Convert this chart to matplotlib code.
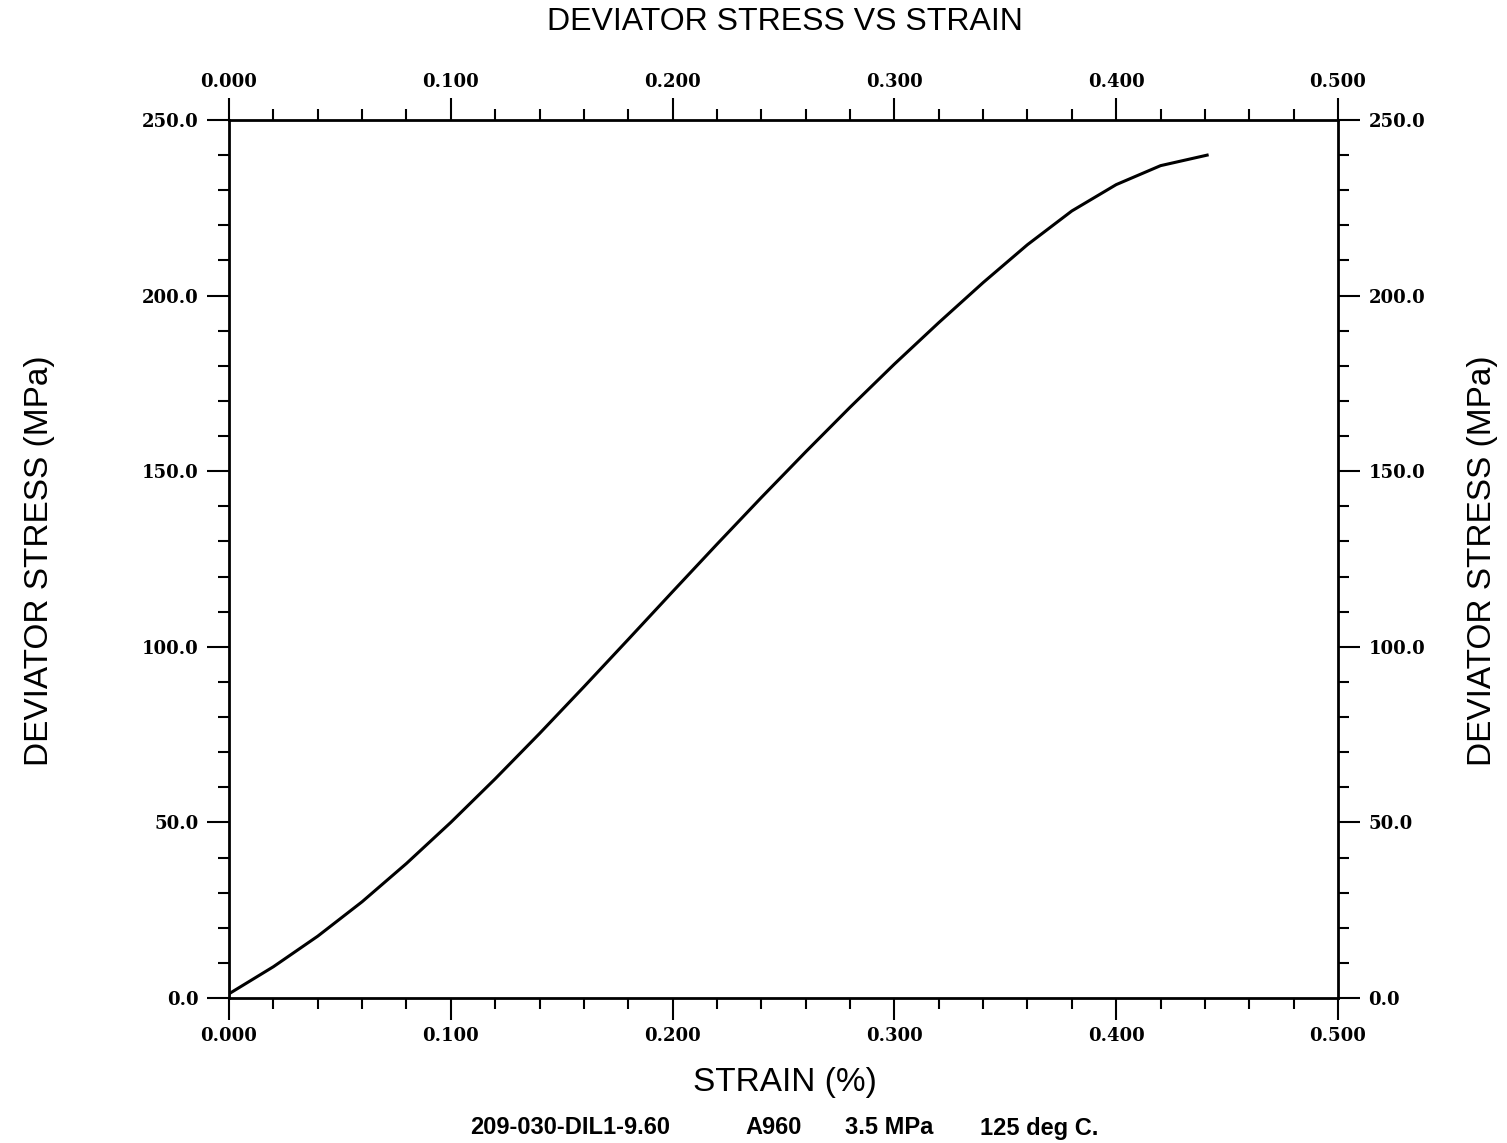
import numpy as np
import matplotlib.pyplot as plt
from matplotlib.ticker import MultipleLocator, FormatStrFormatter

# 读图得到的应变-偏应力数据
strain = [0.000, 0.020, 0.040, 0.060, 0.080, 0.100, 0.120, 0.140, 0.160, 0.180,
          0.200, 0.220, 0.240, 0.260, 0.280, 0.300, 0.320, 0.340, 0.360, 0.380,
          0.400, 0.420, 0.441]
stress = [1.2, 8.9, 17.6, 27.4, 38.3, 50.0, 62.4, 75.3, 88.6, 102.1,
          115.7, 129.2, 142.5, 155.5, 168.2, 180.5, 192.3, 203.7, 214.5, 224.1,
          231.6, 237.0, 240.0]

title = 'DEVIATOR STRESS VS STRAIN'
xlabel = 'STRAIN (%)'
ylabel = 'DEVIATOR STRESS (MPa)'
footer = ['209-030-DIL1-9.60', 'A960', '3.5 MPa', '125 deg C.']
footer_x = [470, 745, 845, 980]

sans = 'Liberation Sans'
serif = 'DejaVu Serif'

fig = plt.figure(figsize=(15.07, 11.43), dpi=100)
ax = fig.add_axes([229 / 1507, 1 - 998 / 1143, (1338 - 229) / 1507, (998 - 120) / 1143])

ax.plot(strain, stress, color='black', lw=2.2, solid_joinstyle='round')

ax.set_xlim(0, 0.5)
ax.set_ylim(0, 250)
ax.xaxis.set_major_locator(MultipleLocator(0.1))
ax.xaxis.set_minor_locator(MultipleLocator(0.02))
ax.yaxis.set_major_locator(MultipleLocator(50))
ax.yaxis.set_minor_locator(MultipleLocator(10))
ax.xaxis.set_major_formatter(FormatStrFormatter('%.3f'))
ax.yaxis.set_major_formatter(FormatStrFormatter('%.1f'))

for s in ax.spines.values():
    s.set_linewidth(2.0)

ax.tick_params(which='both', direction='out', top=True, right=True,
               labeltop=True, labelright=True, width=1.5)
ax.tick_params(which='major', length=16)
ax.tick_params(which='minor', length=8)
ax.tick_params(axis='x', which='major', pad=5)
ax.tick_params(axis='y', which='major', pad=6)
for t in ax.xaxis.get_major_ticks() + ax.yaxis.get_major_ticks():
    for lab in (t.label1, t.label2):
        lab.set_fontfamily(serif)
        lab.set_fontweight('bold')
        lab.set_fontsize(13)

fig.text(785 / 1507, 1 - 22 / 1143, title, family=sans, fontsize=23,
         ha='center', va='center')
fig.text(785 / 1507, 1 - 1082 / 1143, xlabel, family=sans, fontsize=24,
         ha='center', va='center')
fig.text(40 / 1507, 1 - 561 / 1143, ylabel, family=sans, fontsize=24,
         ha='center', va='center', rotation=90)
fig.text(1483 / 1507, 1 - 561 / 1143, ylabel, family=sans, fontsize=24,
         ha='center', va='center', rotation=90)
for txt, x in zip(footer, footer_x):
    fig.text(x / 1507, 1 - 1128 / 1143, txt, family=sans, fontsize=17,
             fontweight='bold', ha='left', va='center')

fig.savefig('out.png', dpi=100)
